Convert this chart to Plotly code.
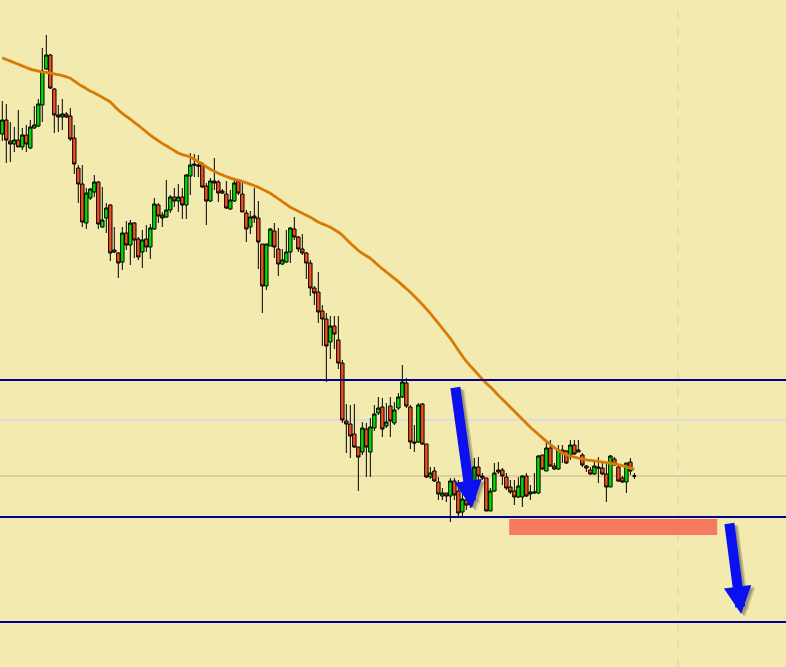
import plotly.graph_objects as go

# ---- data (price units) ----
opens = [866,880,859,856,860,853,865,852,872,874,
         895,931,945,911,885,883,886,884,862,832,
         816,777,802,808,818,773,782,795,748,747,
         738,767,755,777,761,748,761,753,771,795,
         785,783,790,803,799,803,795,824,836,835,
         836,814,799,819,818,809,806,791,799,819,
         806,787,773,784,782,756,714,754,769,751,
         736,738,748,771,763,751,747,737,712,708,
         689,681,658,674,660,637,579,576,566,553,
         548,571,548,572,587,593,574,594,577,592,
         603,617,593,558,558,596,556,523,529,518,
         504,507,504,519,509,488,500,495,509,533,
         524,522,489,509,530,530,523,513,509,503,
         503,524,506,507,507,545,529,552,534,531,
         550,549,545,555,550,545,534,530,526,533,
         532,526,513,541,533,522,518,538,524]
highs = [899,896,878,873,890,872,875,880,894,901,
         952,965,946,912,895,901,888,892,875,835,
         835,812,812,825,819,813,797,796,773,748,
         773,779,780,778,763,770,775,776,802,797,
         788,820,805,812,816,812,826,847,846,845,
         838,817,822,842,820,811,819,810,820,821,
         817,790,789,812,799,756,756,772,777,772,
         751,770,773,783,764,766,748,740,714,728,
         695,687,684,684,684,640,596,595,596,553,
         578,577,582,595,603,602,597,603,598,607,
         635,622,595,575,597,597,556,533,533,523,
         512,507,522,522,520,508,510,513,542,543,
         527,522,512,537,538,532,527,520,520,523,
         525,527,515,527,545,545,557,560,537,555,
         555,550,560,560,560,547,535,533,538,543,
         538,537,545,543,534,524,537,542,527]
lows = [859,837,838,848,853,850,848,851,871,873,
        878,930,911,867,868,870,882,859,826,797,
        773,771,800,803,771,772,767,739,747,722,
        730,750,735,742,740,732,748,741,770,777,
        773,782,787,793,788,781,781,805,823,823,
        812,775,798,810,798,806,791,790,798,805,
        788,758,766,777,731,687,710,754,742,724,
        735,737,737,760,748,745,721,704,695,677,
        654,618,641,651,631,577,547,542,552,509,
        545,523,523,569,585,563,572,563,575,590,
        602,592,551,548,557,555,522,521,518,500,
        500,498,478,500,483,484,490,492,508,515,
        520,489,489,508,526,515,510,506,495,502,
        493,503,500,506,506,530,529,533,530,530,
        537,536,540,545,548,533,528,525,525,517,
        525,498,513,534,518,517,507,525,521]
closes = [880,860,856,860,853,865,856,873,875,896,
          929,945,912,885,883,886,883,861,836,816,
          778,807,811,818,776,780,792,747,750,737,
          767,755,777,760,743,760,753,772,796,784,
          782,790,803,799,803,795,825,835,835,834,
          813,799,819,817,807,807,792,800,817,807,
          788,771,783,782,758,714,756,771,753,736,
          740,748,772,763,751,747,737,712,707,688,
          681,654,674,666,637,580,576,564,553,543,
          572,553,573,586,592,571,578,579,590,603,
          618,594,558,557,595,556,523,527,519,506,
          507,504,519,505,487,501,495,502,533,524,
          522,489,509,527,528,524,512,508,503,514,
          524,504,508,508,544,531,552,534,531,550,
          547,537,555,546,548,535,532,526,534,532,
          526,513,544,535,519,518,537,529,524]
ma = [942.1,940.5,938.9,937.3,935.7,934.1,932.5,930.9,929.8,928.8,
      928.0,927.5,926.9,926.1,925.3,924.3,923.1,921.8,919.0,916.2,
      913.7,911.4,909.1,907.1,904.9,902.7,900.4,898.0,894.0,890.0,
      886.6,883.7,880.8,877.7,874.6,871.4,868.1,864.8,862.0,859.2,
      856.6,854.2,851.8,849.4,847.0,845.4,844.3,843.1,840.7,838.3,
      835.9,833.3,830.8,828.8,826.8,825.1,823.5,821.9,820.8,819.8,
      818.5,817.2,815.9,814.3,812.7,810.8,808.8,806.8,804.0,801.2,
      798.4,795.6,792.8,790.8,788.8,786.8,784.8,782.8,780.4,778.0,
      776.1,774.5,772.8,770.4,768.0,764.7,760.7,756.7,753.1,749.5,
      746.6,744.2,741.7,738.1,734.5,731.2,728.0,724.8,721.6,718.4,
      714.9,711.3,707.7,703.7,699.7,695.5,691.1,686.6,681.6,676.6,
      671.6,666.6,661.6,655.7,649.8,644.0,638.6,634.1,629.7,625.2,
      620.8,616.8,612.9,609.0,604.6,600.7,596.7,592.7,588.7,584.7,
      580.7,576.7,572.7,569.2,565.7,562.1,558.6,555.5,552.4,549.3,
      547.1,545.6,544.0,542.8,541.9,541.0,540.1,539.6,539.1,538.6,
      538.1,537.4,536.7,536.0,535.3,534.3,533.1,531.8,530.6]
bars = list(range(len(opens)))

level_lines = [620, 483, 378]        # navy support / resistance levels
gray_level = 580                     # light grey level
period_sep = 168.9                   # dashed vertical separator (bar index)
zone_x = [126.7, 178.7]              # salmon zone (bar index)
zone_y = [465, 481]
# arrows: (tail_x, tail_y, tip_x, tip_y)
arrows = [(113.2, 614, 117.4, 492), (181.7, 478, 184.7, 386)]

BG = "#F3EAB0"

fig = go.Figure()
fig.add_trace(go.Candlestick(
    x=bars, open=opens, high=highs, low=lows, close=closes,
    increasing=dict(line=dict(color="black", width=1), fillcolor="#00E000"),
    decreasing=dict(line=dict(color="black", width=1), fillcolor="#F5501E"),
    whiskerwidth=0, showlegend=False, hoverinfo="skip"))
fig.add_trace(go.Scatter(x=bars, y=ma, mode="lines",
                         line=dict(color="#D87A06", width=2.8, shape="spline", smoothing=0.6),
                         showlegend=False, hoverinfo="skip"))

shapes = []
shapes.append(dict(type="rect", xref="x", yref="y", x0=zone_x[0], x1=zone_x[1],
                   y0=zone_y[0], y1=zone_y[1], fillcolor="#F77A60",
                   line=dict(width=0), layer="below"))
shapes.append(dict(type="line", xref="paper", yref="y", x0=0, x1=1,
                   y0=gray_level, y1=gray_level,
                   line=dict(color="#DCDCDC", width=2), layer="below"))
shapes.append(dict(type="line", xref="paper", yref="y", x0=0, x1=1,
                   y0=closes[-1], y1=closes[-1],
                   line=dict(color="#CDAE8E", width=1), layer="below"))
shapes.append(dict(type="line", xref="x", yref="paper", x0=period_sep, x1=period_sep,
                   y0=0, y1=1, line=dict(color="#D8D0B4", width=1, dash="dash"),
                   layer="below"))
for lv in level_lines:
    shapes.append(dict(type="line", xref="paper", yref="y", x0=0, x1=1,
                       y0=lv, y1=lv, line=dict(color="#000088", width=2),
                       layer="above"))

annotations = []
for (tx, ty, hx, hy) in arrows:
    for dx, dy, col in [(1.0, -3, "rgba(0,0,0,0.15)"), (0.6, -2, "rgba(0,0,0,0.22)")]:
        annotations.append(dict(x=hx + dx, y=hy + dy, ax=tx + dx, ay=ty + dy,
                                xref="x", yref="y", axref="x", ayref="y",
                                text="", showarrow=True, arrowhead=2, arrowsize=0.55,
                                arrowwidth=10, arrowcolor=col, standoff=0))
    annotations.append(dict(x=hx, y=hy, ax=tx, ay=ty, xref="x", yref="y",
                            axref="x", ayref="y", text="", showarrow=True,
                            arrowhead=2, arrowsize=0.55, arrowwidth=10,
                            arrowcolor="#0A10F0", standoff=0))

fig.update_layout(
    width=786, height=667, margin=dict(l=0, r=0, t=0, b=0),
    paper_bgcolor=BG, plot_bgcolor=BG, boxgap=0.15, boxgroupgap=0,
    shapes=shapes, annotations=annotations, showlegend=False,
    xaxis=dict(range=[-0.575, 195.9], visible=False, rangeslider=dict(visible=False),
               showgrid=False, zeroline=False),
    yaxis=dict(range=[333, 1000], visible=False, showgrid=False, zeroline=False),
)
fig.write_html("out.html", config={"displayModeBar": False},
               post_script="document.body.style.margin='0';document.body.style.padding='0';document.body.style.overflow='hidden';")
